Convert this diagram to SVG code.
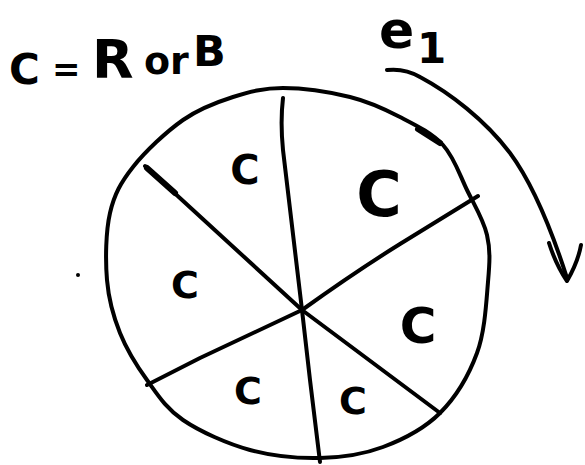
<svg xmlns="http://www.w3.org/2000/svg" width="585" height="465" viewBox="0 0 585 465">
<style>
.ink{fill:none;stroke:#000;stroke-width:4;stroke-linecap:round;stroke-linejoin:round}
.lbl{font-family:"DejaVu Sans",sans-serif;font-weight:bold;fill:#000;text-anchor:middle}
</style>
<rect width="585" height="465" fill="#fff"/>
<g id="title">
<text class="lbl" style="text-anchor:start"><tspan x="9" y="84" font-size="42">C</tspan><tspan x="52" y="81" font-size="34">=</tspan><tspan x="92" y="78" font-size="54">R</tspan><tspan x="144" y="74" font-size="38">or</tspan><tspan x="193" y="66" font-size="43">B</tspan></text>
</g>
<g id="label-e1">
<text class="lbl" style="text-anchor:start"><tspan x="379" y="48" font-size="52">e</tspan><tspan x="417" y="63" font-size="42">1</tspan></text>
</g>
<g id="circle">
<path class="ink" d="M283,88 C302.5,88 330.5,92.2 350,97 C369.5,101.8 384.5,109 400,117 C415.5,125 431.8,132.8 443,145 C454.2,157.2 459.7,175 467,190 C474.3,205 483.5,219.7 487,235 C490.5,250.3 489.7,262.3 488,282 C486.3,301.7 485,331.2 477,353 C469,374.8 455.7,397.3 440,413 C424.3,428.7 403,439.5 383,447 C363,454.5 342.2,457.5 320,458 C297.8,458.5 272.8,456.3 250,450 C227.2,443.7 200.2,431.7 183,420 C165.8,408.3 157.5,394.5 147,380 C136.5,365.5 126.7,349.7 120,333 C113.3,316.3 108.7,300 107,280 C105.3,260 105.7,231.8 110,213 C114.3,194.2 120.8,182.5 133,167 C145.2,151.5 166.3,131.7 183,120 C199.7,108.3 216.3,102.3 233,97 C249.7,91.7 263.5,88 283,88 Z"/>
<path class="ink" style="stroke-width:6" d="M418,129 L440,143"/>
</g>
<g id="spokes">
<path class="ink" d="M283,98 C281,115 281,130 283,150 L302,310"/>
<path class="ink" d="M302,310 L310,380 L320,462"/>
<path class="ink" d="M145,166 L302,310"/>
<path class="ink" style="stroke-width:6" d="M147,168 L175,193"/>
<path class="ink" d="M302,310 L440,413"/>
<path class="ink" d="M302,310 Q355,272 400,244 L478,196"/>
<path class="ink" d="M302,310 L200,358 L147,385"/>
</g>
<g id="sector-labels">
<text class="lbl" x="245" y="184" font-size="40">C</text>
<text class="lbl" x="379" y="216" font-size="62">C</text>
<text class="lbl" x="185" y="298" font-size="38">C</text>
<text class="lbl" x="418" y="343" font-size="50">C</text>
<text class="lbl" x="248" y="404" font-size="38">C</text>
<text class="lbl" x="353" y="414" font-size="38">C</text>
</g>
<g id="arrow">
<path class="ink" d="M387,70 Q405,68 420,77 C450,93 485,120 510,153 C530,180 550,225 567,278"/>
<path class="ink" d="M549,243 Q556,265 567,281 Q578,262 581,245"/>
</g>
<circle cx="78" cy="275" r="2" fill="#000"/>
</svg>
